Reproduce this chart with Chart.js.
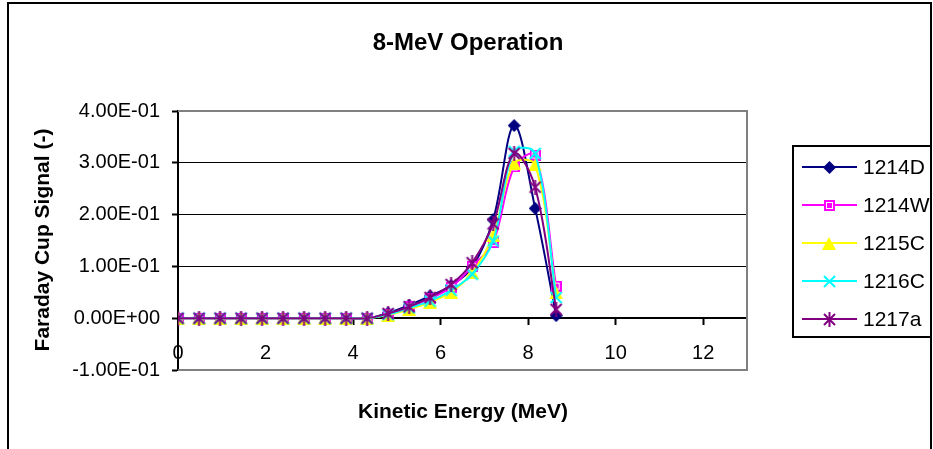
<!DOCTYPE html>
<html>
<head>
<meta charset="utf-8">
<script src="https://cdn.jsdelivr.net/npm/chart.js@4"></script>
<style>
html,body{margin:0;padding:0;background:#fff;}
#wrap{width:933px;height:449px;position:relative;}
</style>
</head>
<body>
<div id="wrap"><canvas id="c" width="933" height="449"></canvas></div>
<script>
// ---- data ----
const energies = [0, 0.48, 0.96, 1.44, 1.92, 2.40, 2.88, 3.36, 3.84, 4.32, 4.80, 5.28, 5.76, 6.24, 6.72, 7.20, 7.68, 8.16, 8.64];
const s1214D = [0, 0, 0, 0, 0, 0, 0, 0, 0, 0, 0.010, 0.025, 0.043, 0.063, 0.098, 0.190, 0.372, 0.212, 0.005];
const s1214W = [0, 0, 0, 0, 0, 0, 0, 0, 0, 0, 0.008, 0.022, 0.038, 0.060, 0.100, 0.146, 0.292, 0.315, 0.062];
const s1215C = [0, 0, 0, 0, 0, 0, 0, 0, 0, 0, 0.006, 0.017, 0.031, 0.050, 0.088, 0.160, 0.299, 0.296, 0.049];
const s1216C = [0, 0, 0, 0, 0, 0, 0, 0, 0, 0, 0.007, 0.020, 0.033, 0.054, 0.085, 0.149, 0.322, 0.318, 0.040];
const s1217a = [0, 0, 0, 0, 0, 0, 0, 0, 0, 0, 0.009, 0.022, 0.040, 0.065, 0.107, 0.182, 0.318, 0.253, 0.017];
const seriesNames = ['1214D', '1214W', '1215C', '1216C', '1217a'];
const xTickValues = [0, 2, 4, 6, 8, 10, 12];
const xTickLabels = ['0', '2', '4', '6', '8', '10', '12'];
const yTickValues = [-0.1, 0, 0.1, 0.2, 0.3, 0.4];
const yTickLabels = ['-1.00E-01', '0.00E+00', '1.00E-01', '2.00E-01', '3.00E-01', '4.00E-01'];
const chartTitle = '8-MeV Operation';
const xAxisTitle = 'Kinetic Energy (MeV)';
const yAxisTitle = 'Faraday Cup Signal (-)';

// ---- styles ----
const colors = ['#000080', '#FF00FF', '#FFFF00', '#00FFFF', '#800080'];
function mk(w, h, draw) {
  const c = document.createElement('canvas');
  c.width = w; c.height = h;
  draw(c.getContext('2d'), w, h);
  return c;
}
const markers = [
  mk(13, 13, g => { g.fillStyle = colors[0]; g.beginPath(); g.moveTo(6.5, 0); g.lineTo(13, 6.5); g.lineTo(6.5, 13); g.lineTo(0, 6.5); g.closePath(); g.fill(); }),
  mk(11, 11, g => { g.fillStyle = colors[1]; g.fillRect(0, 0, 11, 11); g.strokeStyle = '#ffffff'; g.lineWidth = 1; g.strokeRect(2.5, 2.5, 6, 6); }),
  mk(14, 13, g => { g.fillStyle = colors[2]; g.beginPath(); g.moveTo(7, 0); g.lineTo(14, 13); g.lineTo(0, 13); g.closePath(); g.fill(); }),
  mk(13, 13, g => { g.strokeStyle = colors[3]; g.lineWidth = 2; g.beginPath(); g.moveTo(1, 1); g.lineTo(12, 12); g.moveTo(12, 1); g.lineTo(1, 12); g.stroke(); }),
  mk(15, 15, g => { g.strokeStyle = colors[4]; g.lineWidth = 2; g.beginPath(); g.moveTo(2, 2); g.lineTo(13, 13); g.moveTo(13, 2); g.lineTo(2, 13); g.moveTo(7.5, 0); g.lineTo(7.5, 15); g.stroke(); })
];
const allSeries = [s1214D, s1214W, s1215C, s1216C, s1217a];

const datasets = allSeries.map((vals, i) => ({
  label: seriesNames[i],
  data: vals.map((v, k) => ({ x: energies[k], y: v })),
  borderColor: colors[i],
  backgroundColor: colors[i],
  borderWidth: 2,
  tension: 0.35,
  pointStyle: markers[i],
  pointRadius: 6,
  pointHoverRadius: 6,
  order: allSeries.length - 1 - i
}));

const FONT = "'Liberation Sans', Arial, sans-serif";

const decor = {
  id: 'decor',
  beforeDatasetsDraw(chart) {
    const { ctx, chartArea: a } = chart;
    ctx.save();
    ctx.strokeStyle = '#808080';
    ctx.lineWidth = 2;
    ctx.beginPath();
    ctx.moveTo(a.left, a.top); ctx.lineTo(a.right, a.top); ctx.lineTo(a.right, a.bottom); ctx.lineTo(a.left, a.bottom);
    ctx.stroke();
    ctx.restore();
  },
  afterDraw(chart) {
    const { ctx } = chart;
    ctx.save();
    // outer frame
    ctx.strokeStyle = '#000';
    ctx.lineWidth = 2;
    ctx.strokeRect(8, 3, 923, 470);
    // title
    ctx.fillStyle = '#000';
    ctx.textAlign = 'center';
    ctx.textBaseline = 'alphabetic';
    ctx.font = 'bold 24px ' + FONT;
    ctx.fillText(chartTitle, 468, 50);
    // x title
    ctx.font = 'bold 21px ' + FONT;
    ctx.fillText(xAxisTitle, 463, 418);
    // y title
    ctx.save();
    ctx.translate(48.5, 240);
    ctx.rotate(-Math.PI / 2);
    ctx.fillText(yAxisTitle, 0, 0);
    ctx.restore();
    // legend
    ctx.lineWidth = 2;
    ctx.strokeStyle = '#000';
    ctx.strokeRect(793, 146, 138, 191);
    ctx.textAlign = 'left';
    ctx.textBaseline = 'middle';
    ctx.font = '21px ' + FONT;
    seriesNames.forEach((n, i) => {
      const y = 167 + i * 38;
      ctx.strokeStyle = colors[i];
      ctx.beginPath(); ctx.moveTo(802, y); ctx.lineTo(857, y); ctx.stroke();
      const m = markers[i];
      ctx.drawImage(m, Math.round(829 - m.width / 2), Math.round(y - m.height / 2));
      ctx.fillStyle = '#000';
      ctx.fillText(n, 863, y + 1);
    });
    ctx.restore();
  }
};

new Chart(document.getElementById('c'), {
  type: 'line',
  data: { datasets },
  options: {
    responsive: false,
    animation: false,
    devicePixelRatio: 1,
    layout: { padding: { top: 111, right: 186, bottom: 79, left: 0 } },
    plugins: { legend: { display: false }, title: { display: false }, tooltip: { enabled: false } },
    scales: {
      x: {
        type: 'linear',
        min: 0, max: 13,
        position: { y: 0 },
        afterBuildTicks: s => { s.ticks = xTickValues.map(v => ({ value: v })); },
        grid: { display: true, drawOnChartArea: false, drawTicks: true, tickLength: 6, tickColor: '#000', tickWidth: 2 },
        border: { display: true, color: '#000', width: 2 },
        ticks: {
          padding: 17,
          color: '#000',
          font: { family: FONT, size: 20 },
          maxRotation: 0,
          callback: (v) => { const k = xTickValues.indexOf(v); return k >= 0 ? xTickLabels[k] : ''; }
        }
      },
      y: {
        type: 'linear',
        min: -0.1, max: 0.4,
        position: 'left',
        afterFit: s => { s.width = 178; },
        afterBuildTicks: s => { s.ticks = yTickValues.map(v => ({ value: v })); },
        grid: {
          drawTicks: true, tickLength: 6, tickColor: '#000', tickWidth: 2,
          lineWidth: 1,
          color: c => (c.tick && (c.tick.value <= -0.1 + 1e-9 || c.tick.value >= 0.4 - 1e-9)) ? 'rgba(0,0,0,0)' : '#000'
        },
        border: { display: true, color: '#000', width: 2 },
        ticks: {
          padding: 12,
          color: '#000',
          font: { family: FONT, size: 20 },
          callback: (v) => { const k = yTickValues.findIndex(t => Math.abs(t - v) < 1e-9); return k >= 0 ? yTickLabels[k] : ''; }
        }
      }
    }
  },
  plugins: [decor]
});
</script>
</body>
</html>
